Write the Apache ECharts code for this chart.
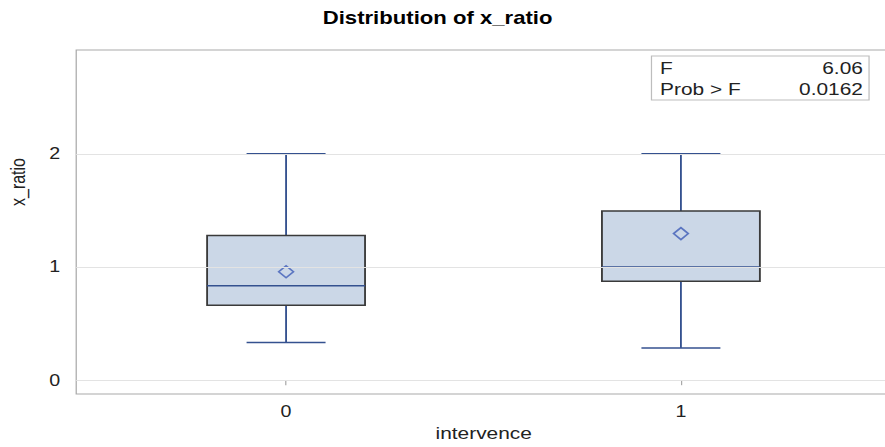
<!DOCTYPE html>
<html>
<head>
<meta charset="utf-8">
<script src="https://cdn.jsdelivr.net/npm/echarts@6/dist/echarts.min.js"></script>
<style>
  html, body { margin: 0; padding: 0; background: #fff; overflow: hidden; width: 885px; height: 447px; }
  /* the chart is laid out narrower and stretched horizontally to the page width */
  #chart { width: 726px; height: 447px; transform: scaleX(1.2292); transform-origin: 0 0; }
</style>
</head>
<body>
<div id="chart"></div>
<script>
// Groups on the x axis and their positions
const groups = ['0', '1'];
const groupPos = [0, 1];

// Box plot statistics of x_ratio per group
const whiskerLow = [0.333, 0.285];
const q1 = [0.663, 0.875];
const median = [0.835, 1.0];
const q3 = [1.278, 1.495];
const whiskerHigh = [2.0, 2.0];
const means = [0.958, 1.295];

// Y tick values and ANOVA summary
const yTicks = [0, 1, 2];
const statLabels = ['F', 'Prob > F'];
const statValues = ['6.06', '0.0162'];

const FONT = '"Liberation Sans", Arial, Helvetica, sans-serif';
const BOX_WIDTH = 0.4;
const BOX_FILL = '#cbd7e7';
const BOX_EDGE = '#3a3a3a';
const WHISKER = '#34518f';
const MEAN = '#3f5cb8';
const FRAME = '#a9a9a9';

const chart = echarts.init(document.getElementById('chart'), null, { renderer: 'svg' });

const boxData = groupPos.map((p, i) => [p, whiskerLow[i], q1[i], median[i], q3[i], whiskerHigh[i]]);
const meanData = groupPos.map((p, i) => [p, means[i]]);

function renderBox(params, api) {
  const x = api.value(0);
  const lo = api.coord([x, api.value(1)]);
  const b1 = api.coord([x, api.value(2)]);
  const md = api.coord([x, api.value(3)]);
  const b3 = api.coord([x, api.value(4)]);
  const hi = api.coord([x, api.value(5)]);
  const half = api.size([BOX_WIDTH, 0])[0] / 2;
  const cap = half / 2;
  const cx = lo[0];
  const line = (x1, y1, x2, y2) => ({
    type: 'line',
    shape: { x1, y1, x2, y2 },
    style: { stroke: WHISKER, lineWidth: 1.5 }
  });
  return {
    type: 'group',
    children: [
      line(cx, hi[1], cx, b3[1]),
      line(cx, b1[1], cx, lo[1]),
      line(cx - cap, hi[1], cx + cap, hi[1]),
      line(cx - cap, lo[1], cx + cap, lo[1]),
      {
        type: 'rect',
        shape: { x: cx - half, y: b3[1], width: half * 2, height: b1[1] - b3[1] },
        style: { fill: BOX_FILL, stroke: BOX_EDGE, lineWidth: 1.5 }
      },
      line(cx - half, md[1], cx + half, md[1])
    ]
  };
}

chart.setOption({
  animation: false,
  grid: {
    left: 62, right: 1, top: 50, bottom: 49,
    show: true, borderColor: FRAME, borderWidth: 1, backgroundColor: '#fff'
  },
  xAxis: {
    type: 'value',
    min: -0.5315,
    max: 1.5325,
    name: 'intervence',
    nameLocation: 'middle',
    nameGap: 31,
    nameTextStyle: { fontFamily: FONT, fontSize: 17, color: '#222' },
    axisLine: { show: false },
    axisTick: { show: true, customValues: groupPos, length: 5, lineStyle: { color: FRAME } },
    axisLabel: {
      customValues: groupPos,
      margin: 10,
      fontFamily: FONT, fontSize: 16, color: '#222',
      formatter: v => groups[groupPos.indexOf(v)]
    },
    splitLine: { show: false }
  },
  yAxis: {
    type: 'value',
    min: -0.122,
    max: 2.917,
    axisLine: { show: false },
    axisTick: { show: true, customValues: yTicks, length: 7, lineStyle: { color: FRAME } },
    axisLabel: {
      customValues: yTicks,
      margin: 13,
      fontFamily: FONT, fontSize: 16, color: '#222'
    },
    splitLine: { show: false }
  },
  graphic: [
    {
      type: 'text', x: 356, y: 18,
      style: {
        text: 'Distribution of x_ratio', fontFamily: FONT, fontSize: 18, fontWeight: 'bold',
        fill: '#000', align: 'center', verticalAlign: 'middle'
      }
    },
    {
      type: 'text', x: 15, y: 182, rotation: Math.PI / 2,
      style: {
        text: 'x_ratio', fontFamily: FONT, fontSize: 16, fill: '#222',
        align: 'center', verticalAlign: 'middle'
      }
    },
    {
      type: 'group', x: 530, y: 56, z: 100,
      children: [
        { type: 'rect', shape: { x: 0, y: 0, width: 177, height: 44 },
          style: { fill: '#fff', stroke: '#bdbdbd', lineWidth: 1 } },
        ...statLabels.map((t, i) => ({
          type: 'text', x: 7, y: 12 + i * 21,
          style: { text: t, fontFamily: FONT, fontSize: 17, fill: '#222', align: 'left', verticalAlign: 'middle' }
        })),
        ...statValues.map((t, i) => ({
          type: 'text', x: 172, y: 12 + i * 21,
          style: { text: t, fontFamily: FONT, fontSize: 17, fill: '#222', align: 'right', verticalAlign: 'middle' }
        }))
      ]
    }
  ],
  series: [
    {
      // reference gridlines at the labelled y ticks
      type: 'line', data: [], z: 1,
      markLine: {
        silent: true, symbol: 'none', animation: false,
        label: { show: false },
        lineStyle: { color: '#e3e3e3', width: 1, type: 'solid' },
        data: yTicks.map(v => ({ yAxis: v }))
      }
    },
    {
      type: 'custom', z: 2,
      renderItem: renderBox,
      encode: { x: 0, y: [1, 2, 3, 4, 5] },
      data: boxData
    },
    {
      type: 'scatter', z: 3,
      symbol: 'diamond',
      symbolSize: [12, 12],
      itemStyle: { color: 'rgba(0,0,0,0)', borderColor: MEAN, borderWidth: 1.5 },
      data: meanData
    }
  ]
});
</script>
</body>
</html>
